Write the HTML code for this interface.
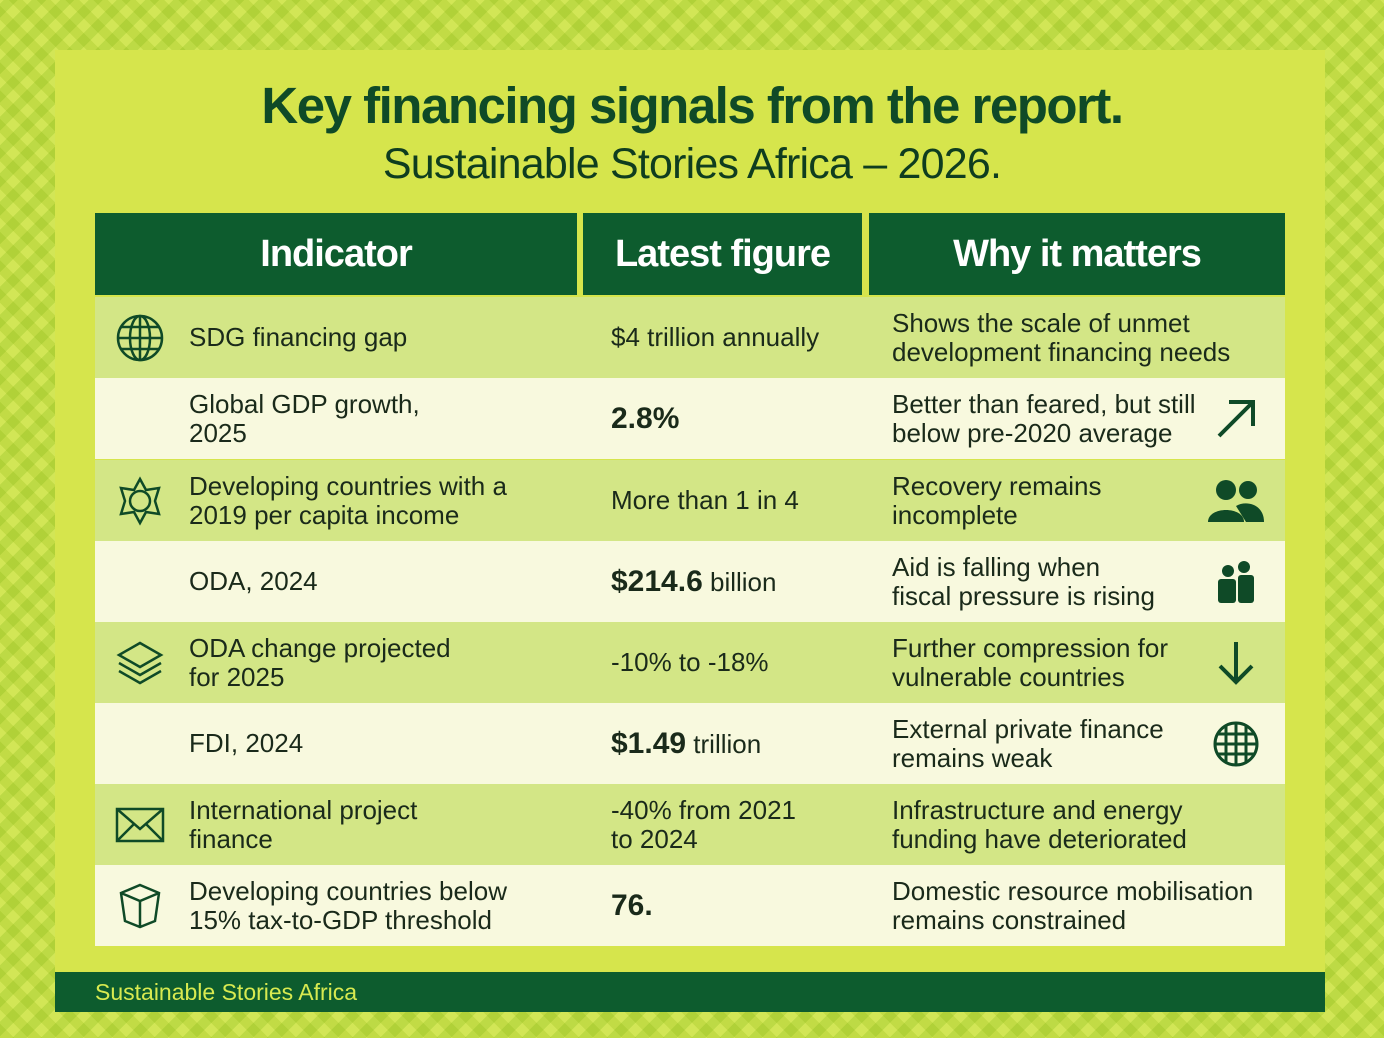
<!DOCTYPE html>
<html><head><meta charset="utf-8"><style>
*{margin:0;padding:0;box-sizing:border-box}
body{width:1384px;height:1038px;overflow:hidden;font-family:"Liberation Sans",sans-serif;position:relative;
background:repeating-linear-gradient(45deg,#b6d43c 0 10px,#cde455 10px 20px),#c2dc48;}
.bg2{position:absolute;inset:0;background:repeating-linear-gradient(-45deg,rgba(170,205,50,.45) 0 10px,rgba(220,235,90,.3) 10px 20px);}
.panel{position:absolute;left:55px;top:50px;width:1270px;height:962px;background:#d6e54c;}
h1{position:absolute;left:0;width:1384px;top:76px;text-align:center;font-size:51px;font-weight:bold;color:#0f4a27;letter-spacing:-1.5px}
h2{position:absolute;left:0;width:1384px;top:140px;text-align:center;font-size:43px;font-weight:normal;color:#0f3d1f;letter-spacing:-.8px}
.hd{position:absolute;top:213px;height:82px;background:#0d5c2e;color:#fff;font-weight:bold;font-size:38px;display:flex;align-items:center;justify-content:center;letter-spacing:-1px}
.row{position:absolute;left:95px;width:1190px;height:81px;font-size:26px;color:#1a2a1a}
.g{background:#d3e686}.c{background:#f8f9de}
.row div{position:absolute;top:0;height:81px;display:flex;align-items:center;line-height:29px}
.a{left:94px;width:390px}.b{left:516px;width:270px}.w{left:797px;width:380px}
.ic{left:18px;width:54px;justify-content:center}
.ir{left:1110px;width:62px;justify-content:center}
b{font-size:30px}
.foot{position:absolute;left:55px;top:972px;width:1270px;height:40px;background:#0d5c2e;color:#d8ea50;font-size:23px;padding-left:40px;line-height:40px}
svg{stroke:#0f4a27;fill:none;stroke-width:2.5}
</style></head><body><div class="bg2"></div>
<div class="panel"></div>
<h1>Key financing signals from the report.</h1>
<h2>Sustainable Stories Africa – 2026.</h2>
<div class="hd" style="left:95px;width:482px">Indicator</div>
<div class="hd" style="left:583px;width:279px">Latest figure</div>
<div class="hd" style="left:869px;width:416px">Why it matters</div>

<div class="row g" style="top:297px"><div class="ic"><svg width="50" height="50" viewBox="0 0 50 50"><circle cx="25" cy="25" r="22"/><ellipse cx="25" cy="25" rx="10" ry="22"/><path d="M3 25H47M6 14H44M6 36H44M25 3V47"/></svg></div><div class="a">SDG financing gap</div><div class="b">$4 trillion annually</div><div class="w">Shows the scale of unmet<br>development financing needs</div></div>
<div class="row c" style="top:378px"><div class="a">Global GDP growth,<br>2025</div><div class="b"><b>2.8%</b></div><div class="w">Better than feared, but still<br>below pre-2020 average</div><div class="ir"><svg width="46" height="46" viewBox="0 0 46 46" style="stroke-width:4"><path d="M6 40L40 6M16 6H40V30"/></svg></div></div>
<div class="row g" style="top:460px"><div class="ic"><svg width="50" height="50" viewBox="0 0 50 50"><path d="M25 3L31 14 44 12 40 25 44 38 31 36 25 47 19 36 6 38 10 25 6 12 19 14Z"/><circle cx="25" cy="25" r="10"/></svg></div><div class="a">Developing countries with a<br>2019 per capita income</div><div class="b">More than 1 in 4</div><div class="w">Recovery remains<br>incomplete</div><div class="ir"><svg width="60" height="46" viewBox="0 0 60 46" style="fill:#0f4a27;stroke:none"><circle cx="20" cy="12" r="10"/><path d="M2 44C2 28 38 28 38 44Z"/><circle cx="42" cy="12" r="9"/><path d="M30 28C40 22 58 26 58 44H40Z"/></svg></div></div>
<div class="row c" style="top:541px"><div class="a">ODA, 2024</div><div class="b"><span><b>$214.6</b> billion</span></div><div class="w">Aid is falling when<br>fiscal pressure is rising</div><div class="ir"><svg width="44" height="46" viewBox="0 0 44 46" style="fill:#0f4a27;stroke:none"><circle cx="14" cy="12" r="6"/><circle cx="30" cy="8" r="6"/><rect x="4" y="20" width="18" height="24" rx="3"/><rect x="24" y="16" width="16" height="28" rx="3"/></svg></div></div>
<div class="row g" style="top:622px"><div class="ic"><svg width="50" height="50" viewBox="0 0 50 50"><path d="M25 5L46 17 25 29 4 17Z"/><path d="M4 25L25 37 46 25M4 33L25 45 46 33"/></svg></div><div class="a">ODA change projected<br>for 2025</div><div class="b">-10% to -18%</div><div class="w">Further compression for<br>vulnerable countries</div><div class="ir"><svg width="40" height="50" viewBox="0 0 40 50" style="stroke-width:4"><path d="M20 4V44M4 28L20 44 36 28"/></svg></div></div>
<div class="row c" style="top:703px"><div class="a">FDI, 2024</div><div class="b"><span><b>$1.49</b> trillion</span></div><div class="w">External private finance<br>remains weak</div><div class="ir"><svg width="50" height="50" viewBox="0 0 50 50" style="stroke-width:3"><circle cx="25" cy="25" r="21"/><path d="M4 25H46M7 15H43M7 35H43M25 4V46M15 7V43M35 7V43"/></svg></div></div>
<div class="row g" style="top:784px"><div class="ic"><svg width="52" height="40" viewBox="0 0 52 40"><rect x="3" y="4" width="46" height="32"/><path d="M3 4L26 24 49 4M3 36L20 19M49 36L32 19"/></svg></div><div class="a">International project<br>finance</div><div class="b">-40% from 2021<br>to 2024</div><div class="w">Infrastructure and energy<br>funding have deteriorated</div></div>
<div class="row c" style="top:865px"><div class="ic"><svg width="46" height="50" viewBox="0 0 46 50"><path d="M23 4L42 12 38 40 23 46 8 40 4 12Z M4 12L23 20 42 12M23 20V46"/></svg></div><div class="a">Developing countries below<br>15% tax-to-GDP threshold</div><div class="b"><b>76.</b></div><div class="w" style="width:400px">Domestic resource mobilisation<br>remains constrained</div></div>
<div class="foot">Sustainable Stories Africa</div>
</body></html>
